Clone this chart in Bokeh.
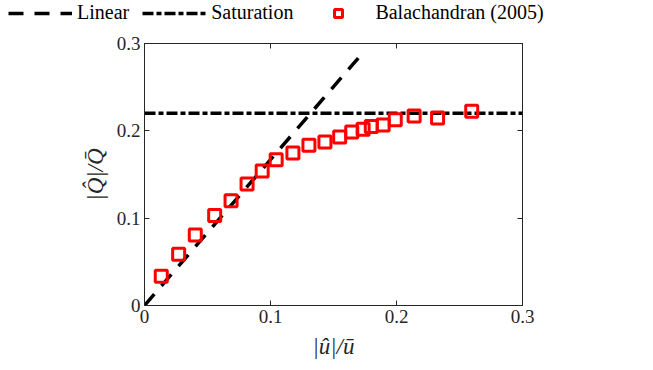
from bokeh.plotting import figure
from bokeh.models import Range1d, LinearAxis, Legend, LegendItem, FixedTicker
from bokeh.layouts import column
from bokeh.embed import file_html
from bokeh.resources import INLINE

# Experimental data (Balachandran 2005)
u_exp = [0.0133, 0.0271, 0.0403, 0.0557, 0.0687, 0.0814, 0.0934, 0.1045, 0.1178, 0.1305,
         0.1432, 0.1549, 0.1645, 0.1735, 0.1800, 0.1894, 0.1990, 0.2140, 0.2326, 0.2597]
q_exp = [0.0336, 0.0587, 0.0808, 0.1030, 0.1200, 0.1390, 0.1540, 0.1670, 0.1746, 0.1834,
         0.1872, 0.1929, 0.1986, 0.2017, 0.2051, 0.2066, 0.2127, 0.2169, 0.2146, 0.2223]

# Linear model
lin_slope = 1.67
lin_u = [0.0, 0.174]
lin_q = [lin_slope * u for u in lin_u]

# Saturation level
sat_level = 0.22
sat_u = [0.0, 0.3]
sat_q = [sat_level, sat_level]

ticks = [0, 0.1, 0.2, 0.3]
x_label = "|u\u0302|/u\u0304"
y_label = "|Q\u0302|/Q\u0304"
legend_labels = ["Linear", "Saturation", "Balachandran (2005)"]

FONT = "Liberation Serif"
AX = "#262626"
LIN_STYLE = dict(line_color="black", line_width=3.5, line_dash="15 11")
SAT_STYLE = dict(line_color="black", line_width=3.5, line_dash="11 3 5 3")
EXP_STYLE = dict(marker="square", size=12, line_width=3, line_color="#ff0000", fill_color=None)

# ---- main plot ----
p = figure(width=653, height=340, output_backend="svg", toolbar_location=None,
           x_range=Range1d(0, 0.3), y_range=Range1d(0, 0.3),
           min_border_left=144, min_border_right=131, min_border_top=13, min_border_bottom=65)
p.grid.visible = False
p.outline_line_color = AX
p.outline_line_width = 1
p.background_fill_color = "white"
p.border_fill_color = "white"

p.line(lin_u, lin_q, **LIN_STYLE)
p.line(sat_u, sat_q, **SAT_STYLE)
p.scatter(u_exp, q_exp, **EXP_STYLE)

def style_axis(ax, labels=True):
    ax.ticker = FixedTicker(ticks=ticks)
    ax.major_tick_in = 5
    ax.major_tick_out = 0
    ax.minor_tick_line_color = None
    ax.axis_line_color = AX
    ax.major_tick_line_color = AX
    ax.major_label_text_font = FONT
    ax.major_label_text_font_size = "19px"
    ax.major_label_text_color = AX
    if not labels:
        ax.major_label_text_font_size = "0px"
        ax.major_label_text_alpha = 0

style_axis(p.xaxis[0])
style_axis(p.yaxis[0])
p.xaxis[0].major_label_standoff = 4
p.yaxis[0].major_label_standoff = 4
p.xaxis[0].axis_label = x_label
p.yaxis[0].axis_label = y_label
for ax in (p.xaxis[0], p.yaxis[0]):
    ax.axis_label_text_font = FONT
    ax.axis_label_text_font_size = "23px"
    ax.axis_label_text_font_style = "italic"
    ax.axis_label_text_color = AX
p.xaxis[0].axis_label_standoff = 8
p.yaxis[0].axis_label_standoff = 6

top_ax = LinearAxis()
right_ax = LinearAxis()
style_axis(top_ax, labels=False)
style_axis(right_ax, labels=False)
p.add_layout(top_ax, "above")
p.add_layout(right_ax, "right")

# ---- legend strip (same series, ranges chosen so the data itself is out of view) ----
pl = figure(width=653, height=30, output_backend="svg", toolbar_location=None,
            x_range=Range1d(10, 11), y_range=Range1d(10, 11),
            x_axis_type=None, y_axis_type=None, min_border=0)
if "frame_align" in pl.properties():
    pl.frame_align = False
if "frame_align" in p.properties():
    p.frame_align = False
pl.grid.visible = False
pl.outline_line_color = None
pl.border_fill_color = "white"
l1 = pl.line(lin_u, lin_q, **LIN_STYLE)
l2 = pl.line(sat_u, sat_q, **SAT_STYLE)
l3 = pl.scatter(u_exp, q_exp, **EXP_STYLE)

legend = Legend(items=[LegendItem(label=legend_labels[0], renderers=[l1]),
                       LegendItem(label=legend_labels[1], renderers=[l2]),
                       LegendItem(label=legend_labels[2], renderers=[l3])],
                orientation="horizontal", location=(8, 6),
                glyph_width=64, glyph_height=20, label_standoff=5, spacing=13,
                padding=0, margin=0, border_line_color=None, background_fill_alpha=0,
                label_text_font=FONT, label_text_font_size="20px", label_text_color="black",
                label_height=20)
pl.add_layout(legend, "center")

layout = column(pl, p, spacing=0)
open("out.html", "w").write(file_html(layout, INLINE))
